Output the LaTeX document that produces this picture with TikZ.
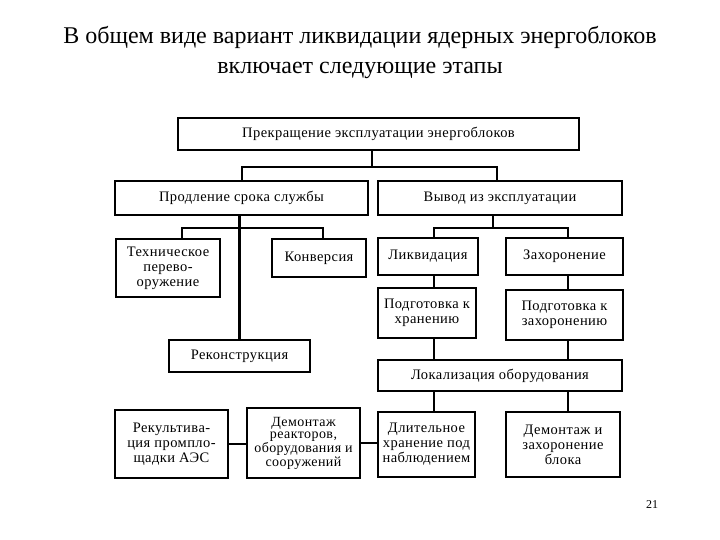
\documentclass[tikz,border=0pt]{standalone}
\usepackage{fontspec}
\setmainfont{Liberation Serif}
\newfontfamily\titlefont{Liberation Serif}
\newfontfamily\boxfont[LetterSpace=3]{Liberation Serif}
\begin{document}
\begin{tikzpicture}[x=1pt,y=-1pt,
  box/.style={draw=black, line width=2pt, inner sep=1pt, align=center, font=\boxfont\fontsize{14.5}{15}\selectfont, anchor=center},
  conn/.style={draw=black, line width=2.2pt}]
\useasboundingbox (0,0) rectangle (720,540);
\node[font=\titlefont\fontsize{24}{30}\selectfont, align=center] (title) at (360,53) {В общем виде вариант ликвидации ядерных энергоблоков\\включает следующие этапы};
\node[font=\titlefont\fontsize{12}{14}\selectfont] (page) at (652,505) {21};

\node[box, minimum width=401, minimum height=32] (top) at (378.5,134) {Прекращение эксплуатации энергоблоков};
\node[box, minimum width=253, minimum height=34] (prod) at (241.5,198) {Продление срока службы};
\node[box, minimum width=244, minimum height=34] (vyv) at (500,198) {Вывод из эксплуатации};
\node[box, minimum width=104, minimum height=58] (tech) at (168,268) {Техническое\\перево-\\оружение};
\node[box, minimum width=94, minimum height=38] (konv) at (319,258) {Конверсия};
\node[box, minimum width=141, minimum height=32] (reco) at (239.5,356) {Реконструкция};
\node[box, minimum width=100, minimum height=37] (likv) at (428,256.5) {Ликвидация};
\node[box, minimum width=117, minimum height=37] (zah) at (564.5,256.5) {Захоронение};
\node[box, minimum width=98, minimum height=50] (podkh) at (427,313) {Подготовка к\\хранению};
\node[box, minimum width=117, minimum height=50] (podz) at (564.5,315) {Подготовка к\\захоронению};
\node[box, minimum width=244, minimum height=31] (lok) at (500,375.5) {Локализация оборудования};
\node[box, minimum width=113, minimum height=68] (rekul) at (171.5,444) {Рекультива-\\ция промпло-\\щадки АЭС};
\node[box, minimum width=113, minimum height=70, inner sep=0pt, font=\boxfont\fontsize{14}{12.5}\selectfont] (dem1) at (303.5,443) {Демонтаж\\реакторов,\\оборудования и\\сооружений};
\node[box, minimum width=97, minimum height=65] (dlit) at (426.5,444.5) {Длительное\\хранение под\\наблюдением};
\node[box, minimum width=114, minimum height=65] (dem2) at (563,444.5) {Демонтаж и\\захоронение\\блока};

% level 1
\coordinate (j1) at (372,167);
\coordinate (j1l) at (242,167);
\coordinate (j1r) at (497,167);
\draw[conn] (j1 |- top.south) -- (j1);
\draw[conn] (j1l |- prod.north) -- (j1l) -- (j1r) -- (j1r |- vyv.north);
% left subtree
\coordinate (j2) at (239.5,228);
\coordinate (j2l) at (182,228);
\coordinate (j2r) at (323,228);
\draw[conn] (j2 |- prod.south) -- (reco.north);
\draw[conn] (j2l |- tech.north) -- (j2l) -- (j2r) -- (j2r |- konv.north);
% right subtree
\coordinate (j3) at (493,228);
\coordinate (j3l) at (434,228);
\coordinate (j3r) at (568,228);
\draw[conn] (j3 |- vyv.south) -- (j3);
\draw[conn] (j3l |- likv.north) -- (j3l) -- (j3r) -- (j3r |- zah.north);
\draw[conn] (j3l |- likv.south) -- (j3l |- podkh.north);
\draw[conn] (j3r |- zah.south) -- (j3r |- podz.north);
\draw[conn] (j3l |- podkh.south) -- (j3l |- lok.north);
\draw[conn] (j3r |- podz.south) -- (j3r |- lok.north);
\draw[conn] (j3l |- lok.south) -- (j3l |- dlit.north);
\draw[conn] (j3r |- lok.south) -- (j3r |- dem2.north);
% bottom row
\draw[conn] (rekul.east) -- (rekul.east -| dem1.west);
\draw[conn] (dem1.east) -- (dem1.east -| dlit.west);
\end{tikzpicture}
\end{document}
